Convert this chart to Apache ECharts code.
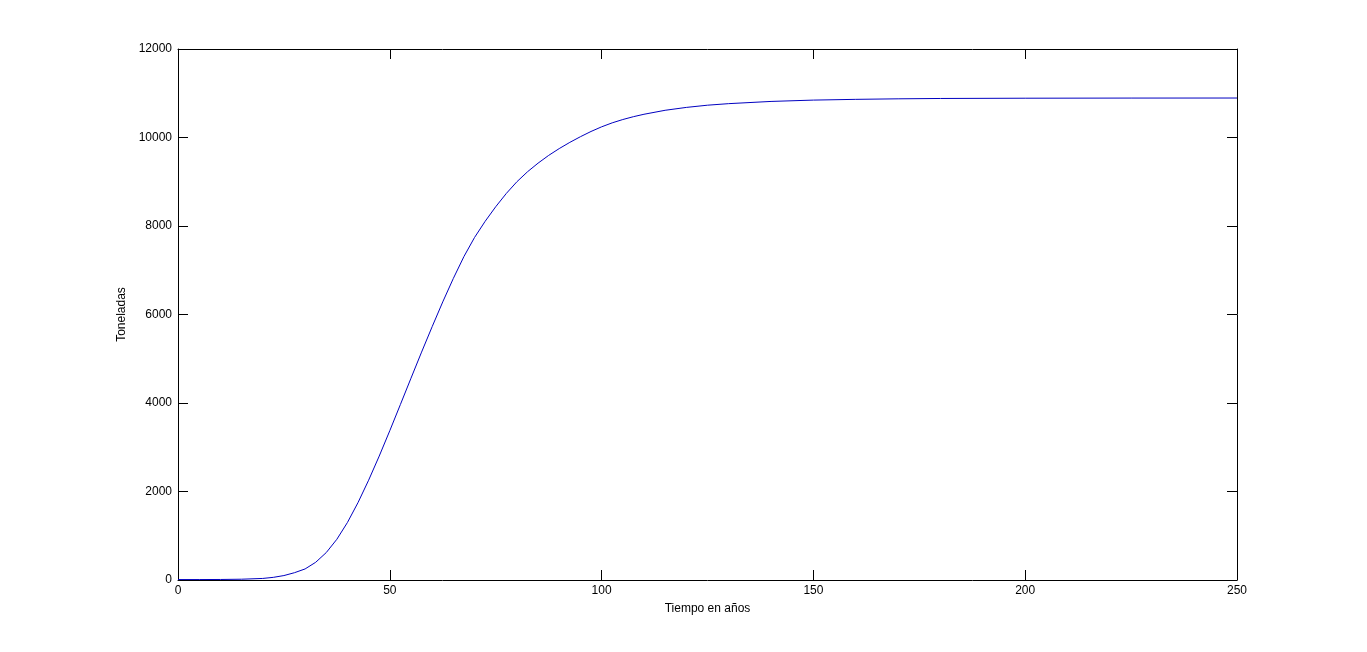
<!DOCTYPE html>
<html>
<head>
<meta charset="utf-8">
<script src="https://cdn.jsdelivr.net/npm/echarts@6/dist/echarts.min.js"></script>
<style>
html,body{margin:0;padding:0;background:#fff;}
#chart{width:1367px;height:652px;}
</style>
</head>
<body>
<div id="chart"></div>
<script>
const years = [0,5,10,15,20,22.5,25,27.5,30,32.5,35,37.5,40,42.5,45,47.5,50,52.5,55,57.5,60,62.5,65,67.5,70,72.5,75,77.5,80,82.5,85,87.5,90,92.5,95,97.5,100,102.5,105,107.5,110,115,120,125,130,140,150,160,170,180,200,225,250];
const tons  = [10,10,12,18,35,60,100,165,250,400,620,920,1300,1750,2255,2800,3375,3965,4560,5150,5725,6285,6815,7310,7740,8105,8435,8735,9000,9225,9420,9595,9750,9890,10018,10136,10241,10331,10406,10470,10525,10615,10680,10730,10765,10815,10845,10862,10874,10882,10888,10891,10892];
const xTicks = {min:0, max:250, interval:50};
const yTicks = {min:0, max:12000, interval:2000};
const xName = 'Tiempo en años';
const yName = 'Toneladas';

const font = 'Liberation Sans, Arial, sans-serif';
const W = 1367, H = 652, GL = 178, GR = 130, GT = 49, GB = 72, TL = 10;
const axisLine = show => ({show:show, onZero:false, lineStyle:{color:'#000', width:1}});
const tick = () => ({show:true, inside:true, length:TL, lineStyle:{color:'#000', width:1}});
const plain = v => String(v);
const xBase = {type:'value', min:xTicks.min, max:xTicks.max, interval:xTicks.interval, splitLine:{show:false}};
const yBase = {type:'value', min:yTicks.min, max:yTicks.max, interval:yTicks.interval, splitLine:{show:false}};
const hidden = base => Object.assign({}, base, {show:false});

const chart = echarts.init(document.getElementById('chart'));
chart.setOption({
  animation:false,
  backgroundColor:'#fff',
  grid:[
    {left:GL, right:GR, top:GT, bottom:GB, containLabel:false},
    // thin strip just above the bottom axis: its top axis draws the upward bottom ticks
    {left:GL, right:GR, top:H - GB - TL, height:TL, containLabel:false},
    // thin strip just right of the left axis: its right axis draws the rightward left ticks
    {left:GL, width:TL, top:GT, bottom:GB, containLabel:false}
  ],
  xAxis:[
    Object.assign({}, xBase, {
      gridIndex:0, position:'bottom',
      axisLine:axisLine(true), axisTick:{show:false},
      axisLabel:{color:'#000', fontFamily:font, fontSize:12, margin:5, formatter:plain},
      name:xName, nameLocation:'middle', nameGap:23,
      nameTextStyle:{color:'#000', fontFamily:font, fontSize:12}
    }),
    Object.assign({}, xBase, {gridIndex:0, position:'top', axisLine:axisLine(true), axisTick:tick(), axisLabel:{show:false}}),
    Object.assign({}, xBase, {gridIndex:1, position:'top', axisLine:axisLine(false), axisTick:tick(), axisLabel:{show:false}}),
    Object.assign(hidden(xBase), {gridIndex:2})
  ],
  yAxis:[
    Object.assign({}, yBase, {
      gridIndex:0, position:'left',
      axisLine:axisLine(true), axisTick:{show:false},
      axisLabel:{color:'#000', fontFamily:font, fontSize:12, margin:6, formatter:plain},
      name:yName, nameLocation:'middle', nameGap:46, nameRotate:90,
      nameTextStyle:{color:'#000', fontFamily:font, fontSize:12}
    }),
    Object.assign({}, yBase, {gridIndex:0, position:'right', axisLine:axisLine(true), axisTick:tick(), axisLabel:{show:false}}),
    Object.assign(hidden(yBase), {gridIndex:1}),
    Object.assign({}, yBase, {gridIndex:2, position:'right', axisLine:axisLine(false), axisTick:tick(), axisLabel:{show:false}})
  ],
  series:[{
    type:'line',
    data: years.map((y,i)=>[y,tons[i]]),
    xAxisIndex:0, yAxisIndex:0,
    showSymbol:false, smooth:false,
    lineStyle:{color:'#0000c0', width:1},
    z:10
  }]
});
</script>
</body>
</html>
